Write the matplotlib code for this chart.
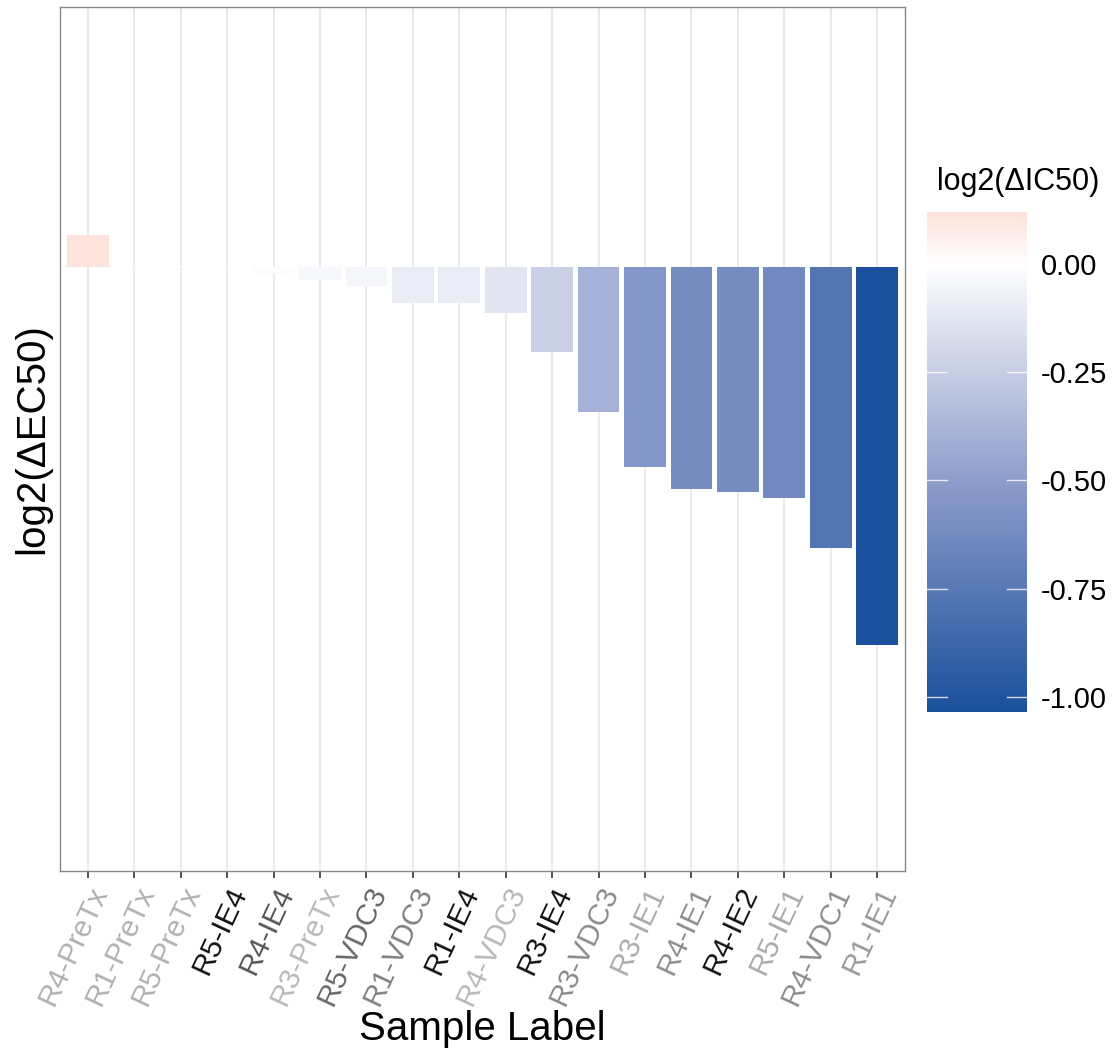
import numpy as np
import pandas as pd
import matplotlib
matplotlib.use("Agg")
import matplotlib.pyplot as plt
from matplotlib.colors import LinearSegmentedColormap, Normalize

plt.rcParams['font.family'] = ['Liberation Sans', 'DejaVu Sans']

# Data
labels = ["R4-PreTx", "R1-PreTx", "R5-PreTx", "R5-IE4", "R4-IE4", "R3-PreTx",
          "R5-VDC3", "R1-VDC3", "R1-IE4", "R4-VDC3", "R3-IE4", "R3-VDC3",
          "R3-IE1", "R4-IE1", "R4-IE2", "R5-IE1", "R4-VDC1", "R1-IE1"]
log2_ec50 = [0.088, 0.003, 0.002, -0.002, -0.019, -0.036,
             -0.052, -0.099, -0.099, -0.126, -0.233, -0.397,
             -0.548, -0.608, -0.616, -0.633, -0.770, -1.036]
log2_ic50 = [0.119, 0.003, 0.002, -0.002, -0.019, -0.036,
             -0.052, -0.099, -0.099, -0.126, -0.233, -0.397,
             -0.548, -0.608, -0.616, -0.633, -0.770, -1.034]
label_colors = ["#B0B0B0", "#B0B0B0", "#B0B0B0", "#111111", "#555555", "#B8B8B8",
                "#666666", "#808080", "#111111", "#B8B8B8", "#111111", "#8A8A8A",
                "#AAAAAA", "#8C8C8C", "#111111", "#AAAAAA", "#8C8C8C", "#999999"]
cbar_ticks = [0.0, -0.25, -0.5, -0.75, -1.0]

df = pd.DataFrame({"label": labels, "ec50": log2_ec50, "ic50": log2_ic50})

# blue - white - pink fill scale
vmin, vmax = min(log2_ic50), max(log2_ic50)
norm = Normalize(vmin=vmin, vmax=vmax)
stops = [(norm(vmin), "#1B519C"), (norm(-0.5), "#8E9DCB"),
         (norm(0.0), "#FFFFFF"), (norm(vmax), "#FDE3DC")]
cmap = LinearSegmentedColormap.from_list("bwp", stops)

fig = plt.figure(figsize=(11.18, 10.54), dpi=100)
ax = fig.add_axes([0.0537, 0.1736, 0.7558, 0.8198])

x = np.arange(len(df))
ax.bar(x, df["ec50"], width=0.9, color=cmap(norm(df["ic50"])), zorder=2)

ax.set_xlim(-0.6, len(df) - 0.4)
ax.set_ylim(-1.655, 0.712)

# vertical grid only, ggplot-like
ax.set_xticks(x)
ax.grid(axis="x", color="#EBEBEB", linewidth=1.5, zorder=0)
ax.set_yticks([])
for s in ax.spines.values():
    s.set_color("#888888")
    s.set_linewidth(1.0)

ax.set_xticklabels(df["label"], rotation=65, fontsize=21.5,
                   ha="right", va="top", rotation_mode="anchor")
for t, c in zip(ax.get_xticklabels(), label_colors):
    t.set_color(c)
ax.tick_params(axis="x", length=5, width=1.2, color="#333333", pad=3)

ax.set_xlabel("Sample Label", fontsize=29, labelpad=0)
ax.set_ylabel("log2(ΔEC50)", fontsize=29, labelpad=6)

# colorbar on the right
cax = fig.add_axes([927 / 1118, 1 - 712 / 1054, 100 / 1118, 500 / 1054])
grad = np.linspace(vmin, vmax, 300).reshape(-1, 1)
cax.imshow(grad, aspect="auto", origin="lower", cmap=cmap, norm=norm,
           extent=[0, 1, vmin, vmax])
cax.set_xlim(0, 1)
cax.set_ylim(vmin, vmax)
cax.set_xticks([])
cax.yaxis.tick_right()
cax.set_yticks(cbar_ticks)
cax.set_yticklabels(["%.2f" % v for v in cbar_ticks], fontsize=21)
cax.tick_params(axis="y", length=0, pad=10)
for v in cbar_ticks:
    cax.plot([0, 0.2], [v, v], color="white", lw=1, alpha=0.8)
    cax.plot([0.8, 1], [v, v], color="white", lw=1, alpha=0.8)
for s in cax.spines.values():
    s.set_visible(False)
cax.text(0.1, 1.06, "log2(ΔIC50)", transform=cax.transAxes, fontsize=22,
         ha="left", va="center")

fig.savefig("out.png", dpi=100)
